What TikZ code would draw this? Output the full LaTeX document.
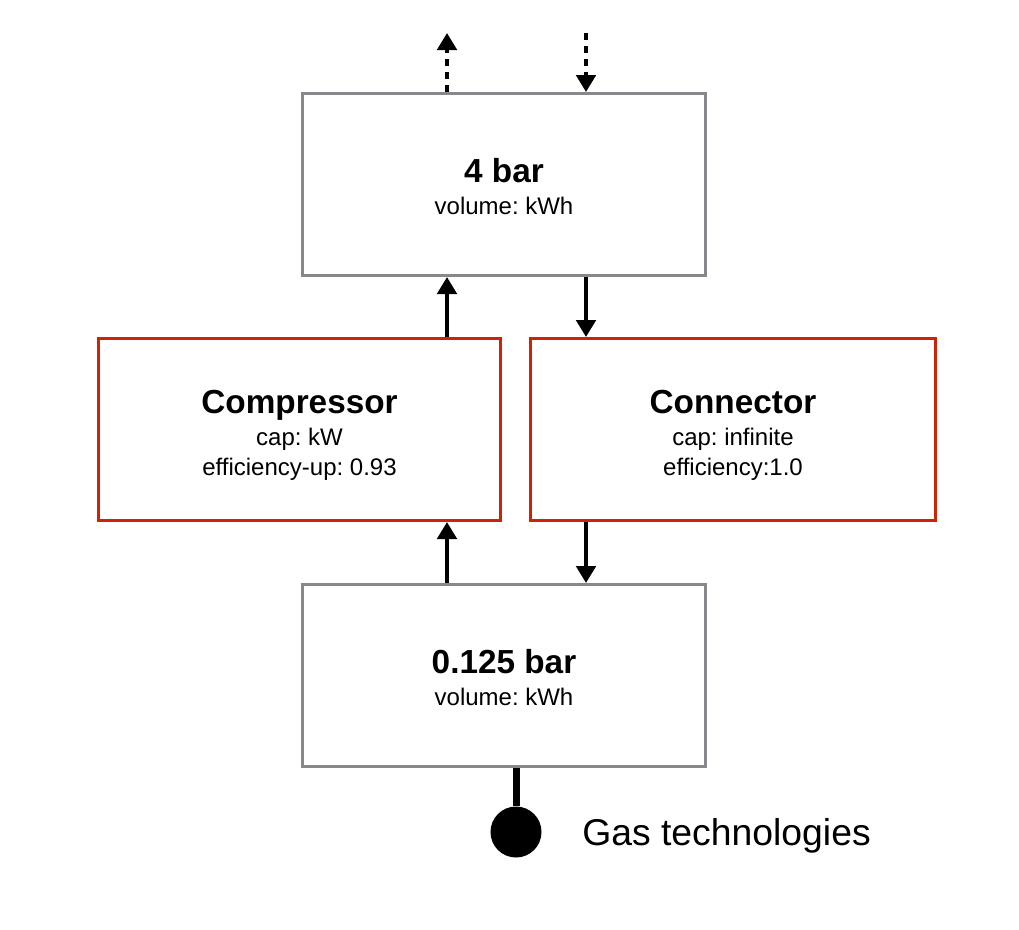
\documentclass[tikz,border=0pt]{standalone}
\usepackage{fontspec}
\setmainfont{Liberation Sans}
\usetikzlibrary{arrows.meta}
\newlength{\du}
\setlength{\du}{0.75pt}
\frenchspacing
\definecolor{busgray}{rgb}{0.53,0.53,0.55}
\definecolor{convred}{rgb}{0.80,0.14,0.02}
\tikzset{
  busbox/.style={draw=busgray, line width=3\du, minimum width=403\du, minimum height=182\du, inner sep=0pt},
  convbox/.style={draw=convred, line width=3\du, minimum height=182\du, inner sep=0pt},
  boxtitle/.style={anchor=base, inner sep=0pt, font=\fontsize{25}{28}\selectfont\bfseries},
  boxdetail/.style={anchor=base, inner sep=0pt, font=\fontsize{18}{20}\selectfont},
  flow/.style={line width=4\du, -{Triangle[length=12.75pt,width=14.5pt]}},
  extflow/.style={flow, dash pattern=on 5.25pt off 4.5pt},
}

\begin{document}
\begin{tikzpicture}[x=1\du,y=-1\du]
\useasboundingbox (0,0) rectangle (1019,929);
% buses
\node[busbox] (bar4) at (504,184.5) {};
\node[busbox] (bar0125) at (504,675.5) {};
% converters
\node[convbox, minimum width=402\du] (comp) at (299.5,429.5) {};
\node[convbox, minimum width=405\du] (conn) at (733,429.5) {};
% texts
\node[boxtitle] (bar4-name) at (504,182) {4 bar};
\node[boxdetail] (bar4-vol) at (504,214) {volume: kWh};
\node[boxtitle] (comp-name) at (299.5,413) {Compressor};
\node[boxdetail] (comp-cap) at (299.5,445) {cap: kW};
\node[boxdetail] (comp-eff) at (299.5,475) {efficiency-up: 0.93};
\node[boxtitle] (conn-name) at (733,413) {Connector};
\node[boxdetail] (conn-cap) at (733,445) {cap: infinite};
\node[boxdetail] (conn-eff) at (733,475) {efficiency:1.0};
\node[boxtitle] (bar0125-name) at (504,673) {0.125 bar};
\node[boxdetail] (bar0125-vol) at (504,705) {volume: kWh};
% columns of the flows
\coordinate (upcol) at (447,0);
\coordinate (downcol) at (586,0);
\coordinate (export) at (447,33);
\coordinate (import) at (586,33);
% flows
\draw[flow] (comp.north -| upcol) -- (bar4.south -| upcol);
\draw[flow] (bar0125.north -| upcol) -- (comp.south -| upcol);
\draw[flow] (bar4.south -| downcol) -- (conn.north -| downcol);
\draw[flow] (conn.south -| downcol) -- (bar0125.north -| downcol);
\draw[extflow] (bar4.north -| export) -- (export);
\draw[extflow] (import) -- (bar4.north -| import);
% gas technologies
\node[circle, fill=black, minimum size=51\du, inner sep=0pt] (gas) at (516,832) {};
\draw[line width=7\du] (bar0125.south -| gas) -- (gas);
\node[anchor=base west, inner sep=0pt, font=\fontsize{28}{32}\selectfont] (gas-label) at (582,845) {Gas technologies};
\end{tikzpicture}
\end{document}
